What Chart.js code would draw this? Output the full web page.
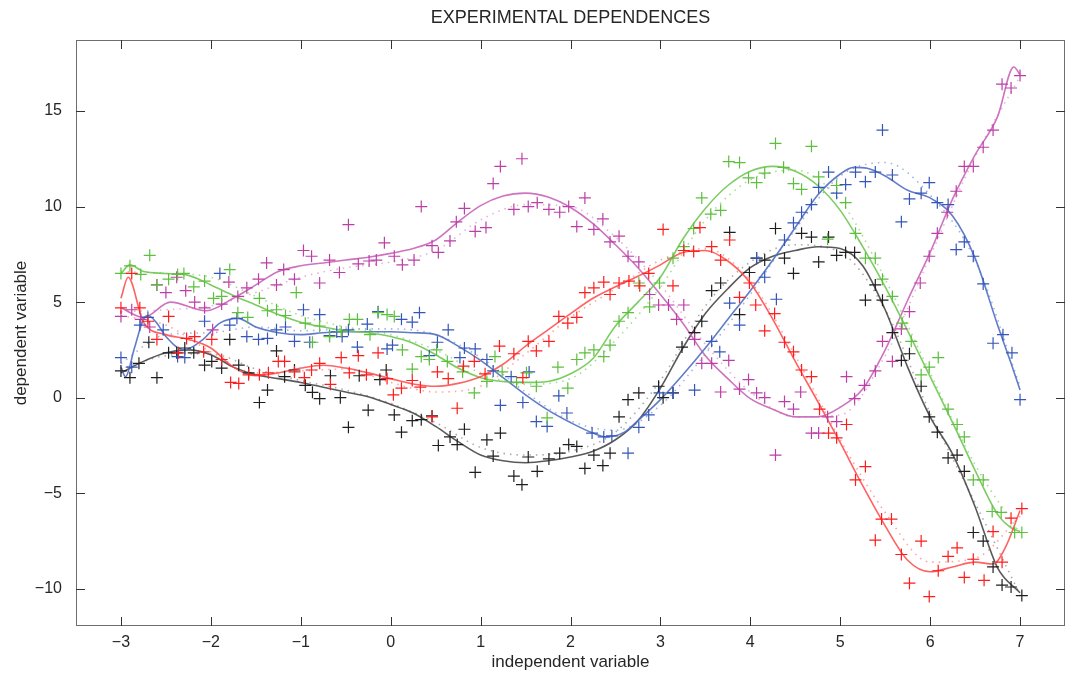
<!DOCTYPE html>
<html>
<head>
<meta charset="utf-8">
<title>Experimental dependences</title>
<script src="https://cdn.jsdelivr.net/npm/chart.js@4.4.1/dist/chart.umd.min.js"></script>
<style>
  html, body { margin: 0; padding: 0; background: #fff; }
  #wrap { width: 1065px; height: 675px; }
</style>
</head>
<body>
<div id="wrap"><canvas id="myChart" width="1065" height="675"></canvas></div>
<script>
const xTicks = [-3, -2, -1, 0, 1, 2, 3, 4, 5, 6, 7];
const yTicks = [-10, -5, 0, 5, 10, 15];

// measured points
const redX = [-3.0,-2.88,-2.79,-2.7,-2.6,-2.47,-2.36,-2.27,-2.18,-2.08,-1.99,-1.88,-1.78,-1.69,-1.58,-1.46,-1.36,-1.25,-1.18,-1.07,-0.96,-0.88,-0.79,-0.67,-0.55,-0.46,-0.36,-0.27,-0.14,-0.04,0.03,0.12,0.24,0.33,0.46,0.52,0.64,0.74,0.81,0.93,1.05,1.21,1.37,1.47,1.53,1.62,1.76,1.87,1.97,2.07,2.16,2.26,2.37,2.44,2.54,2.65,2.77,2.87,3.03,3.14,3.26,3.37,3.44,3.57,3.67,3.77,3.88,3.99,4.06,4.16,4.27,4.38,4.48,4.57,4.68,4.77,4.87,4.96,5.07,5.17,5.28,5.39,5.46,5.57,5.68,5.77,5.9,5.99,6.09,6.2,6.3,6.38,6.48,6.6,6.7,6.8,6.9,7.02];
const redY = [4.7,6.5,4.7,4.0,3.05,4.25,2.35,3.1,3.2,2.4,3.05,2.0,0.8,0.75,1.2,1.2,1.3,1.9,1.9,1.35,1.05,1.45,1.8,0.7,2.1,1.3,2.2,1.2,2.35,1.0,0.15,0.5,0.9,0.55,-1.0,1.35,1.0,-0.55,1.65,1.9,1.25,2.7,2.3,1.05,2.95,2.45,2.95,4.25,3.9,4.2,5.5,5.75,6.05,5.4,6.0,6.1,5.85,6.5,8.8,5.85,7.7,7.65,8.9,7.9,7.2,8.25,5.25,6.0,4.85,3.5,4.4,2.9,2.4,1.45,1.1,-0.6,-1.85,-2.1,-1.4,-4.3,-3.6,-7.45,-6.35,-6.35,-8.2,-9.7,-7.5,-10.4,-9.05,-8.3,-7.85,-9.4,-8.45,-9.55,-7.0,-8.6,-6.3,-5.8];

const blackX = [-3.0,-2.9,-2.8,-2.69,-2.6,-2.47,-2.38,-2.29,-2.19,-2.07,-1.99,-1.88,-1.79,-1.69,-1.58,-1.46,-1.37,-1.27,-1.18,-1.07,-0.95,-0.87,-0.79,-0.67,-0.56,-0.47,-0.35,-0.25,-0.12,-0.05,0.04,0.12,0.24,0.34,0.46,0.53,0.66,0.74,0.82,0.94,1.07,1.14,1.22,1.37,1.46,1.53,1.63,1.76,1.88,1.98,2.07,2.16,2.26,2.36,2.44,2.54,2.64,2.76,2.98,3.03,3.14,3.24,3.38,3.46,3.57,3.67,3.77,3.88,3.99,4.07,4.16,4.28,4.38,4.48,4.57,4.68,4.76,4.87,4.96,5.06,5.16,5.28,5.39,5.47,5.58,5.68,5.77,5.9,5.99,6.08,6.2,6.3,6.38,6.48,6.59,6.7,6.8,6.9,7.02];
const blackY = [1.4,1.05,1.8,2.9,1.05,2.35,2.35,2.6,2.35,1.7,1.9,1.55,3.05,1.7,1.3,-0.25,0.4,2.45,1.1,1.45,0.65,0.28,-0.05,1.15,0.0,-1.55,1.15,-0.65,0.95,1.45,-0.9,-1.8,-1.2,-1.15,-0.95,-2.5,-2.05,-2.45,-1.65,-3.9,-2.2,-3.05,-1.85,-4.1,-4.55,-3.1,-3.85,-3.2,-2.9,-2.45,-2.55,-3.7,-3.0,-3.55,-2.9,-1.0,-0.1,0.25,0.6,0.0,0.25,2.65,3.4,4.0,5.6,6.0,8.65,4.35,6.55,7.3,7.2,8.85,7.3,6.5,8.6,8.4,7.1,8.4,7.45,7.6,7.6,5.1,5.9,5.1,3.4,1.95,2.3,0.6,-1.0,-1.8,-3.15,-3.0,-3.85,-7.05,-7.5,-8.85,-9.8,-9.9,-10.35];

const greenX = [-3.0,-2.9,-2.78,-2.68,-2.6,-2.47,-2.37,-2.3,-2.19,-2.07,-1.97,-1.88,-1.79,-1.7,-1.59,-1.46,-1.37,-1.27,-1.17,-1.05,-0.95,-0.87,-0.79,-0.68,-0.55,-0.46,-0.37,-0.23,-0.14,-0.04,0.04,0.13,0.24,0.34,0.43,0.51,0.63,0.8,0.93,1.07,1.16,1.24,1.4,1.51,1.62,1.74,1.86,1.97,2.07,2.16,2.26,2.37,2.44,2.54,2.64,2.76,2.88,2.99,3.14,3.26,3.37,3.46,3.56,3.67,3.76,3.88,3.98,4.07,4.16,4.28,4.37,4.48,4.57,4.68,4.76,4.86,4.96,5.06,5.17,5.28,5.39,5.47,5.58,5.69,5.79,5.9,5.99,6.09,6.2,6.3,6.38,6.48,6.59,6.69,6.79,6.94,7.02];
const greenY = [6.5,6.9,6.45,7.45,5.9,6.2,6.45,6.5,5.8,6.1,5.2,5.3,6.7,4.45,4.2,5.2,4.55,4.6,4.3,5.5,3.9,2.9,3.75,3.2,3.45,4.1,4.1,3.3,4.45,4.35,4.25,2.5,1.5,2.15,2.0,2.5,1.9,1.35,0.25,0.85,2.15,1.35,0.8,1.3,0.6,-1.05,1.6,0.5,2.0,2.35,2.5,2.15,2.75,4.0,4.45,6.0,4.75,6.0,7.3,7.9,8.85,10.45,9.6,9.8,12.35,12.3,11.5,11.25,11.75,13.3,12.05,11.2,10.9,13.15,11.55,8.3,11.1,10.2,8.6,7.3,7.3,6.2,5.3,3.9,2.95,1.2,1.6,2.1,-0.6,-1.4,-2.05,-4.3,-4.3,-5.95,-6.0,-7.05,-7.05];

const blueX = [-3.0,-2.88,-2.79,-2.7,-2.53,-2.37,-2.29,-2.07,-1.9,-1.79,-1.71,-1.6,-1.47,-1.37,-1.27,-1.17,-1.07,-0.97,-0.9,-0.79,-0.68,-0.6,-0.54,-0.47,-0.37,-0.26,-0.14,-0.04,0.02,0.12,0.24,0.32,0.43,0.52,0.64,0.77,0.82,0.94,1.07,1.14,1.22,1.34,1.47,1.54,1.62,1.74,1.87,1.96,2.24,2.37,2.46,2.64,2.76,2.87,2.99,3.14,3.38,3.57,3.66,3.77,3.88,4.07,4.16,4.29,4.38,4.48,4.57,4.68,4.76,4.87,4.96,5.06,5.17,5.28,5.39,5.47,5.58,5.68,5.77,5.9,5.99,6.08,6.2,6.29,6.38,6.48,6.59,6.7,6.81,6.91,7.0];
const blueY = [2.1,1.6,3.8,4.2,3.55,2.15,2.1,4.0,6.5,3.8,4.15,3.2,3.05,3.1,3.55,3.7,2.95,4.6,2.9,4.35,3.25,3.45,3.2,3.55,2.65,3.85,4.5,2.55,2.75,4.1,3.95,4.45,2.2,2.9,3.55,2.1,2.6,2.55,2.0,1.4,-0.4,1.1,-0.25,1.35,-1.25,-1.5,0.1,-0.8,-1.85,-2.05,-2.0,-2.9,-1.55,-0.9,0.25,0.25,0.4,2.95,2.4,4.95,3.8,7.3,6.3,5.15,8.25,9.15,9.7,10.1,11.0,11.8,10.7,11.15,11.8,11.3,11.8,14.0,11.65,9.2,10.4,10.7,11.25,10.2,10.1,7.75,8.15,7.4,5.95,2.85,3.3,2.35,-0.1];

const magentaX = [-3.0,-2.88,-2.78,-2.68,-2.6,-2.5,-2.38,-2.28,-2.18,-2.07,-1.98,-1.88,-1.8,-1.7,-1.6,-1.47,-1.38,-1.27,-1.19,-1.07,-0.97,-0.88,-0.79,-0.68,-0.57,-0.47,-0.36,-0.24,-0.16,-0.07,0.04,0.13,0.26,0.34,0.46,0.53,0.66,0.73,0.82,0.94,1.06,1.14,1.22,1.37,1.46,1.53,1.63,1.76,1.88,1.98,2.07,2.16,2.26,2.36,2.44,2.54,2.64,2.76,2.88,2.98,3.09,3.18,3.26,3.38,3.46,3.57,3.67,3.76,3.88,3.98,4.07,4.16,4.28,4.38,4.48,4.56,4.68,4.76,4.86,4.96,5.07,5.16,5.27,5.39,5.47,5.58,5.68,5.77,5.89,5.99,6.08,6.19,6.29,6.38,6.48,6.59,6.7,6.8,6.9,7.0];
const magentaY = [4.25,4.6,4.1,3.7,5.9,5.5,6.3,5.6,5.0,4.7,3.55,4.9,6.05,5.3,5.75,6.2,7.05,5.9,6.7,6.2,7.7,7.4,6.0,7.2,6.55,9.05,7.0,7.15,7.2,8.1,7.4,6.95,7.2,10.0,7.95,7.6,8.2,9.2,9.9,8.7,8.9,11.2,12.1,9.85,12.5,10.0,10.2,9.85,9.7,10.0,8.95,10.45,8.8,9.35,8.15,8.45,7.4,7.1,5.4,4.85,4.85,4.1,4.85,3.05,1.8,1.8,0.3,1.95,0.45,0.95,0.25,0.0,-3.0,-0.2,-0.6,0.3,-1.85,-1.85,-1.0,-1.25,1.1,-0.05,0.65,1.4,2.95,1.9,3.6,4.5,6.0,7.4,8.6,9.7,10.8,12.1,12.1,13.1,14.0,16.4,16.2,16.85];

// smooth fits (solid)
const redFitX = [-3,-2.92,-2.75,-2.5,-2.25,-2,-1.75,-1.5,-1.25,-1,-0.75,-0.5,-0.25,0,0.25,0.5,0.75,1,1.25,1.5,1.75,2,2.25,2.5,2.75,3,3.25,3.5,3.75,4,4.25,4.5,4.75,5,5.25,5.5,5.75,6,6.25,6.5,6.7,6.84,7];
const redFitY = [5.2,6.3,3.95,3.3,3.05,2.6,1.6,1.15,1.3,1.55,1.7,1.55,1.3,1.0,0.72,0.6,0.75,1.1,1.75,2.7,3.55,4.4,5.2,5.8,6.35,6.95,7.6,7.7,7.15,6.0,4.1,1.9,-0.2,-2.35,-4.6,-6.7,-8.5,-9.1,-8.85,-8.6,-8.7,-7.8,-5.9];

const blackFitX = [-3,-2.75,-2.5,-2.25,-2,-1.75,-1.5,-1.25,-1,-0.75,-0.5,-0.25,0,0.25,0.5,0.75,1,1.25,1.5,1.75,2,2.25,2.5,2.75,3,3.25,3.5,3.75,4,4.25,4.5,4.75,5,5.25,5.5,5.75,6,6.25,6.5,6.75,7];
const blackFitY = [1.3,1.9,2.35,2.5,2.25,1.6,1.2,1.0,0.8,0.55,0.3,0.05,-0.35,-0.8,-1.5,-2.3,-3.0,-3.3,-3.4,-3.3,-3.1,-2.8,-2.2,-1.2,0.5,2.6,4.4,5.7,6.8,7.4,7.7,7.9,7.8,6.9,4.6,1.6,-1.0,-2.95,-5.7,-8.9,-10.2];

const greenFitX = [-3,-2.9,-2.75,-2.5,-2.25,-2,-1.75,-1.5,-1.25,-1,-0.75,-0.5,-0.25,0,0.25,0.5,0.75,1,1.25,1.5,1.75,2,2.25,2.5,2.75,3,3.25,3.5,3.75,4,4.25,4.5,4.75,5,5.25,5.5,5.75,6,6.25,6.5,6.75,6.9,7];
const greenFitY = [6.5,6.95,6.6,6.5,6.4,5.9,5.35,4.85,4.35,3.95,3.7,3.5,3.4,3.2,2.85,2.25,1.55,1.05,0.85,0.8,0.85,1.25,2.05,3.75,5.0,6.3,8.3,9.9,11.1,11.85,12.1,11.85,11.1,9.8,7.9,5.8,3.5,1.1,-1.3,-3.8,-6.1,-6.8,-7.0];

const blueFitX = [-3,-2.95,-2.85,-2.75,-2.7,-2.6,-2.5,-2.3,-2.1,-1.9,-1.7,-1.5,-1.25,-1,-0.75,-0.5,-0.25,0,0.25,0.5,0.75,1,1.25,1.5,1.75,2,2.25,2.4,2.6,2.75,3,3.25,3.5,3.75,4,4.25,4.5,4.75,5,5.15,5.3,5.5,5.75,6,6.25,6.5,6.75,6.9,7];
const blueFitY = [1.6,1.1,2.6,4.1,4.3,3.9,3.2,2.5,3.0,3.9,4.15,3.7,3.4,3.3,3.4,3.45,3.45,3.45,3.4,3.3,2.7,1.95,1.05,0.15,-0.65,-1.3,-1.85,-2.05,-1.8,-1.2,-0.1,1.2,2.6,4.1,5.6,7.2,8.9,10.6,11.7,12.05,12.0,11.6,10.85,10.45,9.5,7.3,3.8,1.8,0.4];

const magentaFitX = [-3,-2.75,-2.45,-2.05,-1.75,-1.5,-1.25,-1,-0.75,-0.5,-0.25,0,0.25,0.5,0.75,1,1.25,1.5,1.75,2,2.25,2.5,2.75,3,3.25,3.5,3.75,4,4.25,4.5,4.75,5,5.25,5.5,5.75,6,6.25,6.5,6.75,6.93,7];
const magentaFitY = [4.7,4.2,5.0,4.55,5.2,5.9,6.6,6.9,7.05,7.2,7.35,7.55,7.8,8.25,9.2,10.05,10.55,10.7,10.5,9.95,9.1,8.0,6.8,5.4,3.9,2.2,1.0,-0.05,-0.6,-1.0,-1.0,-0.5,0.45,2.5,5.1,7.6,10.4,12.7,14.7,17.3,16.9];

// second fits (dotted)
const trendX = [-3,-2.5,-2,-1.5,-1,-0.5,0,0.5,1,1.5,2,2.5,3,3.5,4,4.5,5,5.5,6,6.5,7];
const redTrend = [4.3,3.8,2.4,1.3,1.4,1.5,0.8,0.3,0.6,2.3,4.2,5.7,7.2,7.8,6.1,2.2,-2.2,-6.0,-8.6,-8.4,-6.2];
const blackTrend = [1.5,2.2,2.3,1.5,0.9,0.4,-0.3,-1.3,-2.6,-3.0,-2.8,-1.8,0.9,4.8,7.1,8.0,7.6,4.6,-0.8,-5.5,-10.3];
const greenTrend = [6.6,6.5,6.3,5.3,4.3,3.7,3.3,2.5,1.3,0.7,1.0,3.0,5.8,9.3,11.4,11.9,10.3,6.2,1.3,-3.5,-7.1];
const blueTrend = [1.8,3.3,3.4,3.7,3.5,3.6,3.6,3.3,2.1,0.3,-1.2,-1.7,-0.4,2.3,5.4,8.8,11.6,12.3,10.6,7.2,0.6];
const magentaTrend = [4.5,4.6,4.8,5.5,6.3,6.8,7.1,7.7,9.3,10.1,10.0,8.4,5.9,2.8,0.3,-1.0,-0.9,2.2,7.4,12.6,16.8];

const pairs = (xs, ys) => xs.map((x, i) => ({ x: x, y: ys[i] }));
const minus = (v) => (v < 0 ? '\u2212' + Math.abs(v) : String(v));

const series = [
  { pts: [redX, redY], fit: [redFitX, redFitY], trend: redTrend, mark: '#ff1c1c', line: 'rgba(255,70,70,0.85)', dots: 'rgba(255,140,140,0.8)' },
  { pts: [greenX, greenY], fit: [greenFitX, greenFitY], trend: greenTrend, mark: '#5cbf3e', line: 'rgba(110,200,80,0.9)', dots: 'rgba(150,210,130,0.8)' },
  { pts: [blueX, blueY], fit: [blueFitX, blueFitY], trend: blueTrend, mark: '#3556b8', line: 'rgba(80,110,195,0.9)', dots: 'rgba(140,160,215,0.8)' },
  { pts: [magentaX, magentaY], fit: [magentaFitX, magentaFitY], trend: magentaTrend, mark: '#bd3fa6', line: 'rgba(200,100,185,0.9)', dots: 'rgba(220,160,210,0.8)' },
  { pts: [blackX, blackY], fit: [blackFitX, blackFitY], trend: blackTrend, mark: '#1e1e1e', line: 'rgba(60,60,60,0.85)', dots: 'rgba(150,150,150,0.8)' },
];

const markSets = series.map((s) => ({
  data: pairs(s.pts[0], s.pts[1]),
  showLine: false,
  pointStyle: 'cross',
  pointRadius: 6,
  borderWidth: 1.2,
  borderColor: s.mark,
  backgroundColor: s.mark,
}));

const fitSets = series.map((s) => ({
  data: pairs(s.fit[0], s.fit[1]),
  showLine: true,
  pointRadius: 0,
  borderWidth: 1.6,
  borderColor: s.line,
  cubicInterpolationMode: 'monotone',
  fill: false,
}));

const trendSets = series.map((s) => ({
  data: pairs(trendX, s.trend),
  showLine: true,
  pointRadius: 0,
  borderWidth: 1.6,
  borderDash: [1.5, 5],
  borderColor: s.dots,
  cubicInterpolationMode: 'monotone',
  fill: false,
}));

// MATLAB style box with inward ticks on all four sides
const boxTicks = {
  id: 'boxTicks',
  afterDatasetsDraw(chart) {
    const { ctx, chartArea: a, scales: { x, y } } = chart;
    ctx.save();
    ctx.lineWidth = 1;
    ctx.strokeStyle = '#6e6e6e';
    ctx.strokeRect(a.left + 0.5, a.top + 0.5, a.right - a.left - 1, a.bottom - a.top - 1);
    ctx.strokeStyle = '#333';
    ctx.beginPath();
    x.ticks.forEach((t) => {
      const px = Math.round(x.getPixelForValue(t.value)) + 0.5;
      ctx.moveTo(px, a.bottom);
      ctx.lineTo(px, a.bottom - 9);
      ctx.moveTo(px, a.top);
      ctx.lineTo(px, a.top + 9);
    });
    y.ticks.forEach((t) => {
      const py = Math.round(y.getPixelForValue(t.value)) + 0.5;
      ctx.moveTo(a.left, py);
      ctx.lineTo(a.left + 9, py);
      ctx.moveTo(a.right, py);
      ctx.lineTo(a.right - 9, py);
    });
    ctx.stroke();
    ctx.restore();
  },
};

Chart.defaults.font.family = '"Liberation Sans", Arial, Helvetica, sans-serif';
Chart.defaults.color = '#262626';

const chartCanvaContext = document.getElementById('myChart').getContext('2d');

new Chart(chartCanvaContext, {
  type: 'scatter',
  data: { datasets: [...markSets, ...fitSets, ...trendSets] },
  options: {
    responsive: false,
    animation: false,
    devicePixelRatio: 1,
    events: [],
    layout: { autoPadding: false, padding: 0 },
    plugins: {
      legend: { display: false },
      tooltip: { enabled: false },
      title: {
        display: true,
        fullSize: false,
        text: 'EXPERIMENTAL DEPENDENCES',
        font: { size: 18, weight: 'normal', lineHeight: 1.2 },
        padding: { top: 7, bottom: 11.4 },
        color: '#262626',
      },
    },
    scales: {
      x: {
        type: 'linear',
        min: -3.5,
        max: 7.5,
        afterBuildTicks: (s) => { s.ticks = xTicks.map((v) => ({ value: v })); },
        afterFit: (s) => { s.height = 49; },
        grid: { display: false, drawTicks: false },
        border: { display: false },
        ticks: { font: { size: 16 }, padding: 7, maxRotation: 0, autoSkip: false, callback: minus },
        title: { display: true, text: 'independent variable', font: { size: 17 }, padding: { top: 0, bottom: 2 } },
      },
      y: {
        type: 'linear',
        min: -11.94,
        max: 18.71,
        afterBuildTicks: (s) => { s.ticks = yTicks.map((v) => ({ value: v })); },
        afterFit: (s) => { s.width = 76; },
        grid: { display: false, drawTicks: false },
        border: { display: false },
        ticks: { font: { size: 16 }, padding: 14, autoSkip: false, callback: minus },
        title: { display: true, text: 'dependent variable', font: { size: 17 }, padding: { top: 11, bottom: 0 } },
      },
    },
  },
  plugins: [boxTicks],
});
</script>
</body>
</html>
